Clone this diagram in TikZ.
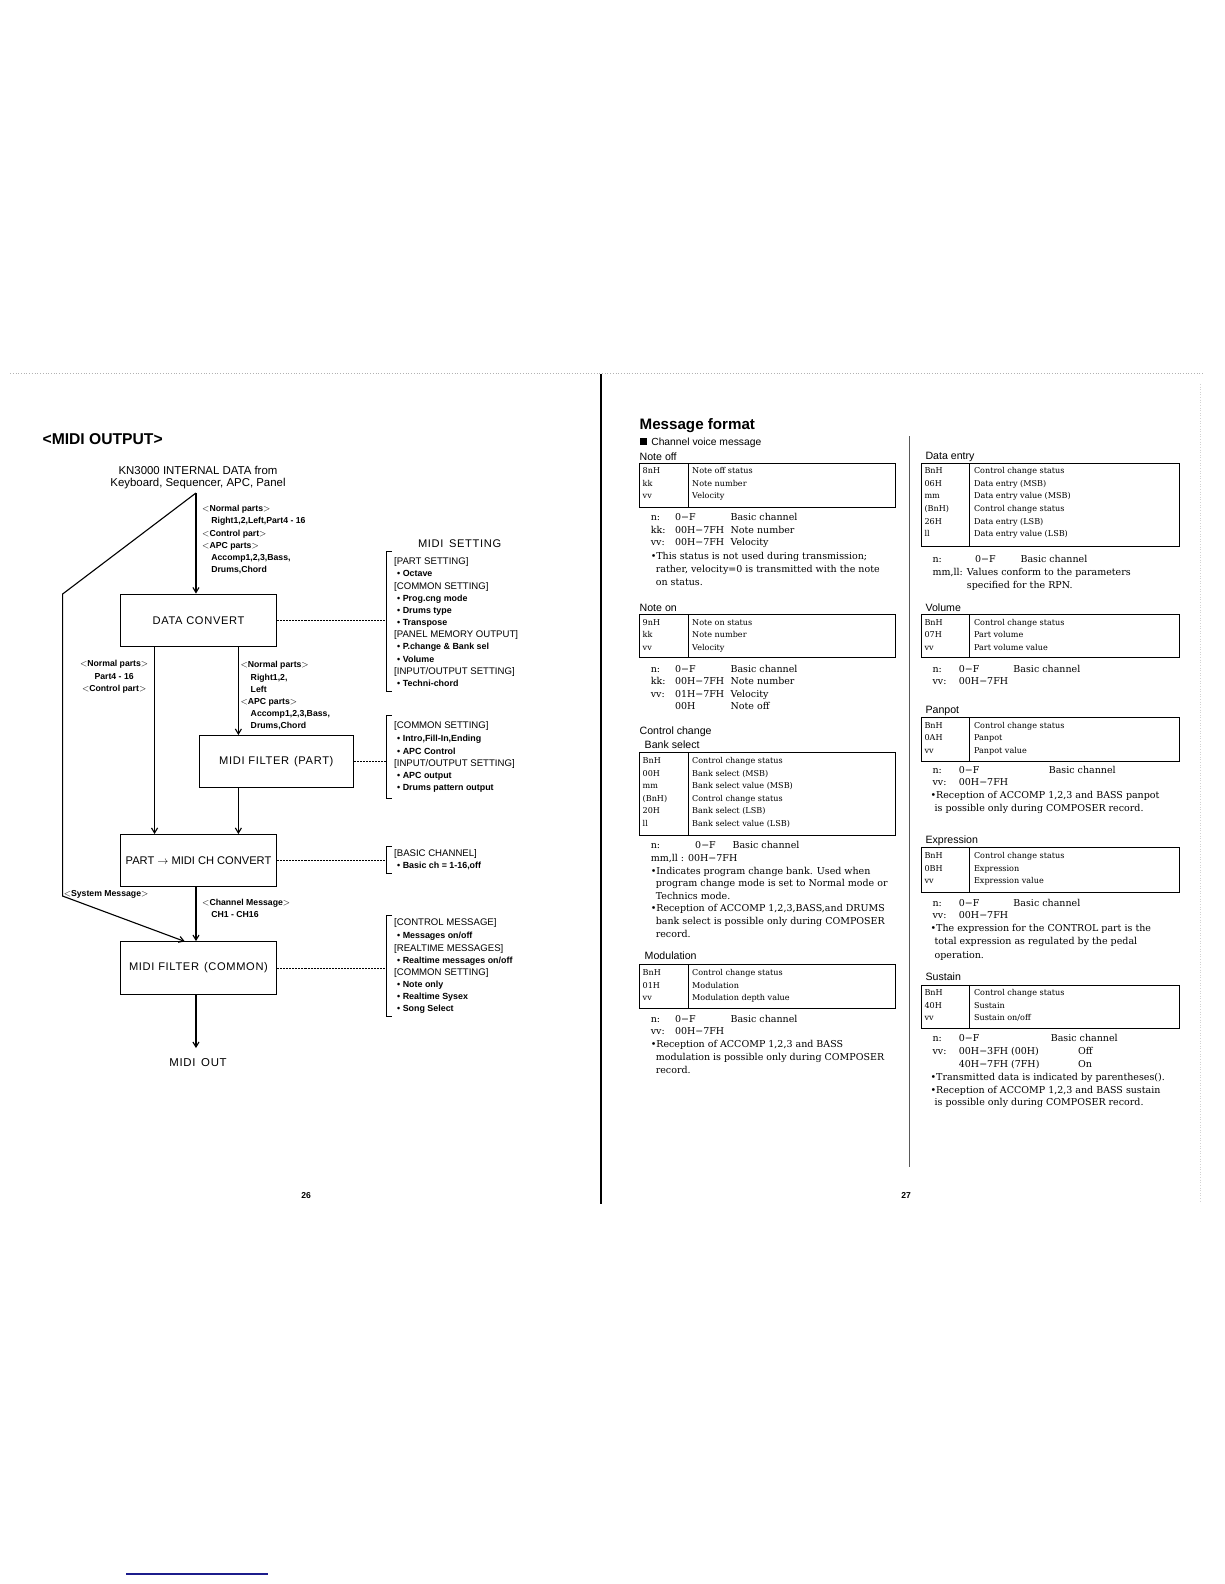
\documentclass[tikz,border=0pt]{standalone}
\usepackage{fontspec}
\setmainfont{DejaVu Serif}
\setsansfont{Liberation Sans}
\newfontfamily\widesans[LetterSpace=6]{Liberation Sans}
\usetikzlibrary{arrows.meta,positioning}
\definecolor{navyline}{RGB}{28,28,140}

\begin{document}
\begin{tikzpicture}[
    x=1pt,y=-1pt,
    >={Straight Barb[length=5pt,width=6pt]},
    flow/.style={->,line width=1.1pt},
    box/.style={draw,line width=0.8pt,minimum width=155pt,minimum height=52pt,
        inner sep=0pt,font=\widesans\fontsize{11}{12}\selectfont},
    ann/.style={anchor=base west,yshift=-3.2pt,inner sep=0pt,
        font=\sffamily\bfseries\fontsize{8.6}{12}\selectfont},
    setting/.style={anchor=base west,yshift=-3.4pt,inner sep=0pt,
        font=\sffamily\fontsize{9.5}{12}\selectfont},
    item/.style={setting,font=\sffamily\bfseries\fontsize{8.8}{12}\selectfont},
    link/.style={dash pattern=on 2pt off 1pt,line width=0.5pt},
    brack/.style={line width=0.9pt},
    head/.style={anchor=base west,yshift=-3.8pt,inner sep=0pt,
        font=\sffamily\fontsize{10.5}{12}\selectfont},
    cell/.style={anchor=base west,yshift=-2.9pt,inner sep=0pt,
        font=\fontsize{8}{12}\selectfont},
    body/.style={anchor=base west,yshift=-3.4pt,inner sep=0pt,
        font=\fontsize{9.4}{12.5}\selectfont},
    tbl/.style={line width=0.7pt},
]
\useasboundingbox (0,0) rectangle (1212,1568);
\fill[white] (0,0) rectangle (1212,1568);

% page edges
\draw[gray!60,dotted,line width=0.7pt] (10,370) -- (1192,370);
\draw[gray!35,dotted,line width=0.6pt] (1188,380) -- (1188,1190);
\draw[line width=1.6pt] (595,370) -- (595,1192);
\draw[gray!70!black,line width=1pt] (900,432) -- (900,1155);
\draw[navyline,line width=1.3pt] (125,1558) -- (265,1558);

% ---------------- page 26 ----------------
\node[anchor=base west,inner sep=0pt,font=\sffamily\bfseries\fontsize{15.5}{18}\selectfont]
    (title) at (42,440.5) {<MIDI OUTPUT>};

\node[align=center,inner sep=0pt,font=\sffamily\fontsize{11.3}{12}\selectfont]
    (src) at (196,473) {KN3000 INTERNAL DATA from\\Keyboard, Sequencer, APC, Panel};

\node[box] (dc) at (196.5,614) {DATA CONVERT};
\node[box,minimum width=153pt,minimum height=51pt] (fp) at (273.5,753.5) {MIDI FILTER\;\,(PART)};
\node[box,minimum height=51pt,font=\sffamily\fontsize{11}{12}\selectfont]
    (pc) at (196.5,851.5) {PART $\rightarrow$ MIDI CH CONVERT};
\node[box] (fc) at (196.5,958) {MIDI FILTER\;\,(COMMON)};
\node[font=\widesans\fontsize{11.3}{12}\selectfont] (out) at (196,1052) {MIDI\enspace OUT};

\coordinate (src top) at (194,488);
\coordinate (colM) at (194,0);
\coordinate (colL) at (153,0);
\coordinate (colR) at (236,0);
\coordinate (bend) at (62,588);
\coordinate (sys) at (62,887);
\coordinate (sys in) at (183,932);
\coordinate (brk) at (383,0);

% main flow
\draw[flow] (src top) -- (src top |- dc.north);
\draw[flow] (dc.south -| colL) -- (pc.north -| colL);
\draw[flow] (dc.south -| colR) -- (fp.north -| colR);
\draw[flow] (fp.south -| colR) -- (pc.north -| colR);
\draw[flow] (pc.south -| colM) -- (fc.north -| colM);
\draw[flow,shorten >=7pt] (fc.south -| colM) -- (out.north -| colM);

% system message bypass
\draw[flow] (src top) -- (bend) -- (sys) -- (sys in);

% part labels
\foreach \xx/\t [count=\i from 0] in {200/{$<$Normal parts$>$}, 209/{Right1,2,Left,Part4 - 16},
    200/{$<$Control part$>$}, 200/{$<$APC parts$>$}, 209/{Accomp1,2,3,Bass,}, 209/{Drums,Chord}}
  \node[ann] (srcnote\i) at (\xx,503+12.2*\i) {\t};

\node[align=center,inner sep=0pt,font=\sffamily\bfseries\fontsize{8.6}{12}\selectfont]
    (leftnote) at (113,670) {$<$Normal parts$>$\\Part4 - 16\\$<$Control part$>$};

\foreach \xx/\t [count=\i from 0] in {238/{$<$Normal parts$>$}, 248/{Right1,2,}, 248/{Left},
    238/{$<$APC parts$>$}, 248/{Accomp1,2,3,Bass,}, 248/{Drums,Chord}}
  \node[ann] (rightnote\i) at (\xx,658+12*\i) {\t};

\node[ann] (sysnote) at (63,884) {$<$System Message$>$};
\node[ann] (chnote0) at (200,893) {$<$Channel Message$>$};
\node[ann] (chnote1) at (209,905) {CH1 - CH16};

% settings
\node[font=\widesans\fontsize{11}{12}\selectfont] (midiset) at (455,538) {MIDI\enspace SETTING};

\draw[link] (dc.east) -- (dc.east -| brk);
\draw[link] (fp.east) -- (fp.east -| brk);
\draw[link] (pc.east) -- (pc.east -| brk);
\draw[link] (fc.east) -- (fc.east -| brk);

\foreach \t/\b in {546/684,708/790,838/865,906/1006}
  \draw[brack] (388,\t) -- (383,\t) -- (383,\b) -- (388,\b);

% bracketed groups
\foreach \yy/\t [count=\i] in {555/{[PART SETTING]}, 580/{[COMMON SETTING]},
    628/{[PANEL MEMORY OUTPUT]}, 664/{[INPUT/OUTPUT SETTING]},
    718/{[COMMON SETTING]}, 755/{[INPUT/OUTPUT SETTING]},
    844/{[BASIC CHANNEL]},
    913/{[CONTROL MESSAGE]}, 938/{[REALTIME MESSAGES]}, 962/{[COMMON SETTING]}}
  \node[setting] (grp\i) at (390,\yy) {\t};

\foreach \yy/\t [count=\i] in {567/{• Octave}, 592/{• Prog.cng mode}, 604/{• Drums type},
    616/{• Transpose}, 640/{• P.change \& Bank sel}, 652/{• Volume}, 676/{• Techni-chord},
    731/{• Intro,Fill-In,Ending}, 743/{• APC Control}, 767/{• APC output},
    779/{• Drums pattern output}, 856/{• Basic ch = 1-16,off},
    926/{• Messages on/off}, 950/{• Realtime messages on/off},
    974/{• Note only}, 986/{• Realtime Sysex}, 998/{• Song Select}}
  \node[item] (itm\i) at (393,\yy) {\t};

\node[font=\sffamily\bfseries\fontsize{8.5}{10}\selectfont] (pg26) at (303,1183) {26};

% ---------------- page 27 ----------------
\node[anchor=base west,inner sep=0pt,font=\sffamily\bfseries\fontsize{15}{18}\selectfont]
    (msgfmt) at (633,425.5) {Message format};
\node[head,font=\sffamily\fontsize{10.2}{12}\selectfont] (cvm) at (633,437)
    {\rule{7pt}{7pt}\, Channel voice message};

% Note off
\node[head] (noteoff) at (633,452) {Note off};
\draw[tbl] (633,459) rectangle (886,502) (681,459) -- (681,502);
\foreach \a/\b [count=\i from 0] in {8nH/Note off status, kk/Note number, vv/Velocity} {
  \node[cell] (noffa\i) at (636,466+12.4*\i) {\a};
  \node[cell] (noffb\i) at (685,466+12.4*\i) {\b};
}
\foreach \xx/\yy/\t [count=\i] in {644/512/{n:}, 668/512/{0−F}, 723/512/{Basic channel},
    644/525/{kk:}, 668/525/{00H−7FH}, 723/525/{Note number},
    644/537/{vv:}, 668/537/{00H−7FH}, 723/537/{Velocity},
    644/550/{•This status is not used during transmission;},
    649/563/{rather, velocity=0 is transmitted with the note},
    649/576/{on status.}}
  \node[body] (noffn\i) at (\xx,\yy) {\t};

% Note on
\node[head] (noteon) at (633,602) {Note on};
\draw[tbl] (633,608) rectangle (886,651) (681,608) -- (681,651);
\foreach \a/\b [count=\i from 0] in {9nH/Note on status, kk/Note number, vv/Velocity} {
  \node[cell] (nona\i) at (636,616+12.4*\i) {\a};
  \node[cell] (nonb\i) at (685,616+12.4*\i) {\b};
}
\foreach \xx/\yy/\t [count=\i] in {644/662/{n:}, 668/662/{0−F}, 723/662/{Basic channel},
    644/674/{kk:}, 668/674/{00H−7FH}, 723/674/{Note number},
    644/687/{vv:}, 668/687/{01H−7FH}, 723/687/{Velocity},
    668/699/{00H}, 723/699/{Note off}}
  \node[body] (nonn\i) at (\xx,\yy) {\t};

% Control change / Bank select
\node[head] (ctrl) at (633,723) {Control change};
\node[head] (bank) at (638,737) {Bank select};
\draw[tbl] (633,745) rectangle (886,827) (681,745) -- (681,827);
\foreach \a/\b [count=\i from 0] in {BnH/Control change status, 00H/Bank select (MSB),
    mm/Bank select value (MSB), {(BnH)}/Control change status, 20H/Bank select (LSB),
    ll/Bank select value (LSB)} {
  \node[cell] (banka\i) at (636,753+12.4*\i) {\a};
  \node[cell] (bankb\i) at (685,753+12.4*\i) {\b};
}
\foreach \xx/\yy/\t [count=\i] in {644/837/{n:}, 688/837/{0−F}, 725/837/{Basic channel},
    644/849/{mm,ll : 00H−7FH},
    644/862/{•Indicates program change bank. Used when},
    649/874/{program change mode is set to Normal mode or},
    649/887/{Technics mode.},
    644/899/{•Reception of ACCOMP 1,2,3,BASS,and DRUMS},
    649/912/{bank select is possible only during COMPOSER},
    649/925/{record.}}
  \node[body] (bankn\i) at (\xx,\yy) {\t};

% Modulation
\node[head] (modul) at (638,946) {Modulation};
\draw[tbl] (633,955) rectangle (886,998) (681,955) -- (681,998);
\foreach \a/\b [count=\i from 0] in {BnH/Control change status, 01H/Modulation,
    vv/Modulation depth value} {
  \node[cell] (moda\i) at (636,963+12.4*\i) {\a};
  \node[cell] (modb\i) at (685,963+12.4*\i) {\b};
}
\foreach \xx/\yy/\t [count=\i] in {644/1009/{n:}, 668/1009/{0−F}, 723/1009/{Basic channel},
    644/1021/{vv:}, 668/1021/{00H−7FH},
    644/1034/{•Reception of ACCOMP 1,2,3 and BASS},
    649/1046/{modulation is possible only during COMPOSER},
    649/1059/{record.}}
  \node[body] (modn\i) at (\xx,\yy) {\t};

% Data entry
\node[head] (dentry) at (916,451) {Data entry};
\draw[tbl] (912,459) rectangle (1167,541) (960,459) -- (960,541);
\foreach \a/\b [count=\i from 0] in {BnH/Control change status, 06H/Data entry (MSB),
    mm/Data entry value (MSB), {(BnH)}/Control change status, 26H/Data entry (LSB),
    ll/Data entry value (LSB)} {
  \node[cell] (dea\i) at (915,466+12.5*\i) {\a};
  \node[cell] (deb\i) at (964,466+12.5*\i) {\b};
}
\foreach \xx/\yy/\t [count=\i] in {923/553/{n:}, 965/553/{0−F}, 1010/553/{Basic channel},
    923/566/{mm,ll:}, 957/566/{Values conform to the parameters},
    957/579/{specified for the RPN.}}
  \node[body] (den\i) at (\xx,\yy) {\t};

% Volume
\node[head] (volume) at (916,602) {Volume};
\draw[tbl] (912,608) rectangle (1167,651) (960,608) -- (960,651);
\foreach \a/\b [count=\i from 0] in {BnH/Control change status, 07H/Part volume,
    vv/Part volume value} {
  \node[cell] (vola\i) at (915,616+12.4*\i) {\a};
  \node[cell] (volb\i) at (964,616+12.4*\i) {\b};
}
\foreach \xx/\yy/\t [count=\i] in {923/662/{n:}, 949/662/{0−F}, 1003/662/{Basic channel},
    923/674/{vv:}, 949/674/{00H−7FH}}
  \node[body] (voln\i) at (\xx,\yy) {\t};

% Panpot
\node[head] (panpot) at (916,702) {Panpot};
\draw[tbl] (912,710) rectangle (1167,754) (960,710) -- (960,754);
\foreach \a/\b [count=\i from 0] in {BnH/Control change status, 0AH/Panpot,
    vv/Panpot value} {
  \node[cell] (pana\i) at (915,718+12.5*\i) {\a};
  \node[cell] (panb\i) at (964,718+12.5*\i) {\b};
}
\foreach \xx/\yy/\t [count=\i] in {923/762/{n:}, 949/762/{0−F}, 1038/762/{Basic channel},
    923/774/{vv:}, 949/774/{00H−7FH},
    921/787/{•Reception of ACCOMP 1,2,3 and BASS panpot},
    925/800/{is possible only during COMPOSER record.}}
  \node[body] (pann\i) at (\xx,\yy) {\t};

% Expression
\node[head] (expr) at (916,831) {Expression};
\draw[tbl] (912,839) rectangle (1167,883) (960,839) -- (960,883);
\foreach \a/\b [count=\i from 0] in {BnH/Control change status, 0BH/Expression,
    vv/Expression value} {
  \node[cell] (expa\i) at (915,847+12.5*\i) {\a};
  \node[cell] (expb\i) at (964,847+12.5*\i) {\b};
}
\foreach \xx/\yy/\t [count=\i] in {923/894/{n:}, 949/894/{0−F}, 1003/894/{Basic channel},
    923/906/{vv:}, 949/906/{00H−7FH},
    921/919/{•The expression for the CONTROL part is the},
    925/932/{total expression as regulated by the pedal},
    925/945/{operation.}}
  \node[body] (expn\i) at (\xx,\yy) {\t};

% Sustain
\node[head] (sustain) at (916,967) {Sustain};
\draw[tbl] (912,975) rectangle (1167,1018) (960,975) -- (960,1018);
\foreach \a/\b [count=\i from 0] in {BnH/Control change status, 40H/Sustain,
    vv/{Sustain on/off}} {
  \node[cell] (susa\i) at (915,983+12.2*\i) {\a};
  \node[cell] (susb\i) at (964,983+12.2*\i) {\b};
}
\foreach \xx/\yy/\t [count=\i] in {923/1028/{n:}, 949/1028/{0−F}, 1040/1028/{Basic channel},
    923/1040/{vv:}, 949/1040/{00H−3FH (00H)}, 1067/1040/{Off},
    949/1053/{40H−7FH (7FH)}, 1067/1053/{On},
    921/1066/{•Transmitted data is indicated by parentheses().},
    921/1079/{•Reception of ACCOMP 1,2,3 and BASS sustain},
    925/1091/{is possible only during COMPOSER record.}}
  \node[body] (susn\i) at (\xx,\yy) {\t};

\node[font=\sffamily\bfseries\fontsize{8.5}{10}\selectfont] (pg27) at (897,1183) {27};
\end{tikzpicture}
\end{document}
